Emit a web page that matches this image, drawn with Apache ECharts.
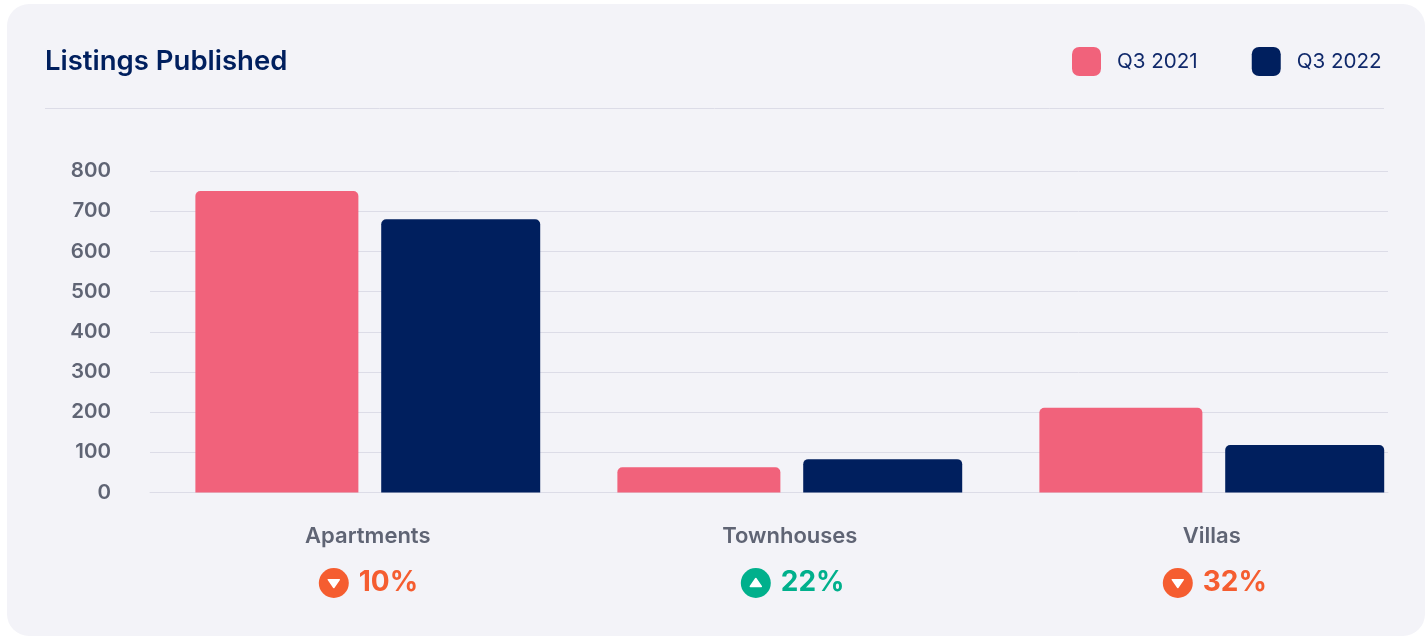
<!DOCTYPE html>
<html>
<head>
<meta charset="utf-8">
<title>Listings Published</title>
<script src="https://cdn.jsdelivr.net/npm/echarts@6/dist/echarts.min.js"></script>
<style>
  html, body { margin: 0; padding: 0; background: #ffffff; }
  #card { position: absolute; left: 7px; top: 4px; width: 1418px; height: 632px; background: #f3f3f8; border-radius: 22px; }
  #chart { position: absolute; left: 0; top: 0; width: 1428px; height: 636px; }
</style>
</head>
<body>
<div id="card"></div>
<div id="chart"></div>
<script>
// Listings published per property type, third quarter year on year
const categories = ['Apartments', 'Townhouses', 'Villas'];
const q3_2021 = [750, 63, 211];
const q3_2022 = [680, 83, 118];
const changeLabels = ['10%', '22%', '32%'];
const changeDirections = ['down', 'up', 'down'];
const yTicks = [0, 100, 200, 300, 400, 500, 600, 700, 800];

const FONT = 'Inter, "Noto Sans", sans-serif';
const NAVY = '#001f5e';
const PINK = '#f1627b';
const GREY = '#5f6474';
const RULE = '#dcdce7';
const DOWN = '#f55d30';
const UP = '#00b08c';

const chart = echarts.init(document.getElementById('chart'), null, { renderer: 'canvas' });

const option = {
  animation: false,
  backgroundColor: 'transparent',
  title: {
    text: 'Listings Published',
    left: 45, top: 48, padding: 0,
    textStyle: { fontFamily: FONT, fontSize: 27.5, fontWeight: 600, color: NAVY }
  },
  legend: {
    left: 1072, top: 47, padding: 0,
    icon: 'roundRect',
    itemWidth: 29, itemHeight: 29, itemGap: 54,
    textStyle: { fontFamily: FONT, fontSize: 20.6, color: '#10296b', padding: [0, 0, 0, 11] },
    data: ['Q3 2021', 'Q3 2022']
  },
  grid: [
    // Ruled plot area carrying the value scale
    { left: 150, top: 171, width: 1238, height: 321.5 },
    // Band layout for the bars and category names
    { left: 156.8, top: 171, width: 1266, height: 321.5 }
  ],
  xAxis: [
    {
      gridIndex: 0, type: 'category', data: categories,
      axisLine: { show: true, lineStyle: { color: RULE } },
      axisTick: { show: false }, axisLabel: { show: false }
    },
    {
      gridIndex: 1, type: 'category', data: categories,
      axisLine: { show: false }, axisTick: { show: false },
      axisLabel: {
        margin: 33, fontFamily: FONT, fontSize: 22, fontWeight: 600, color: GREY
      }
    }
  ],
  yAxis: [
    {
      gridIndex: 0, type: 'value', min: 0, max: 800, interval: 100,
      axisLine: { show: false }, axisTick: { show: false },
      axisLabel: {
        margin: 39, fontFamily: FONT, fontSize: 20.5, fontWeight: 600, color: GREY,
        customValues: yTicks
      },
      splitLine: { show: true, lineStyle: { color: RULE, width: 1 } }
    },
    { gridIndex: 1, type: 'value', min: 0, max: 800, show: false }
  ],
  series: [
    {
      name: 'Q3 2021', type: 'bar', xAxisIndex: 1, yAxisIndex: 1,
      data: q3_2021, barWidth: 163, barGap: '14%',
      itemStyle: { color: PINK, borderRadius: [5, 5, 0, 0] }
    },
    {
      name: 'Q3 2022', type: 'bar', xAxisIndex: 1, yAxisIndex: 1,
      data: q3_2022, barWidth: 159, barGap: '14%',
      itemStyle: { color: NAVY, borderRadius: [5, 5, 0, 0] }
    }
  ]
};
chart.setOption(option);

// Header rule and the year-on-year change badge beneath each category
function changeBadge(i) {
  const cx = chart.convertToPixel({ xAxisIndex: 1 }, categories[i]);
  const dir = changeDirections[i];
  const color = dir === 'up' ? UP : DOWN;
  const apex = dir === 'up' ? -4.5 : 4.5;
  return {
    type: 'group', x: cx - 34, y: 583,
    children: [
      { type: 'circle', shape: { cx: 0, cy: 0, r: 15 }, style: { fill: color } },
      {
        type: 'polygon',
        shape: { points: [[-5.5, -apex * 0.75], [5.5, -apex * 0.75], [0, apex]] },
        style: { fill: '#ffffff', lineJoin: 'round', lineWidth: 1.5, stroke: '#ffffff' }
      },
      {
        type: 'text', x: 25, y: 0,
        style: {
          text: changeLabels[i], fill: color, font: '700 28px ' + FONT,
          textVerticalAlign: 'middle', textAlign: 'left'
        }
      }
    ]
  };
}

chart.setOption({
  graphic: [
    {
      type: 'line', shape: { x1: 45, y1: 108.5, x2: 1384, y2: 108.5 },
      style: { stroke: RULE, lineWidth: 1 }
    }
  ].concat(categories.map(function (_, i) { return changeBadge(i); }))
});
</script>
</body>
</html>
